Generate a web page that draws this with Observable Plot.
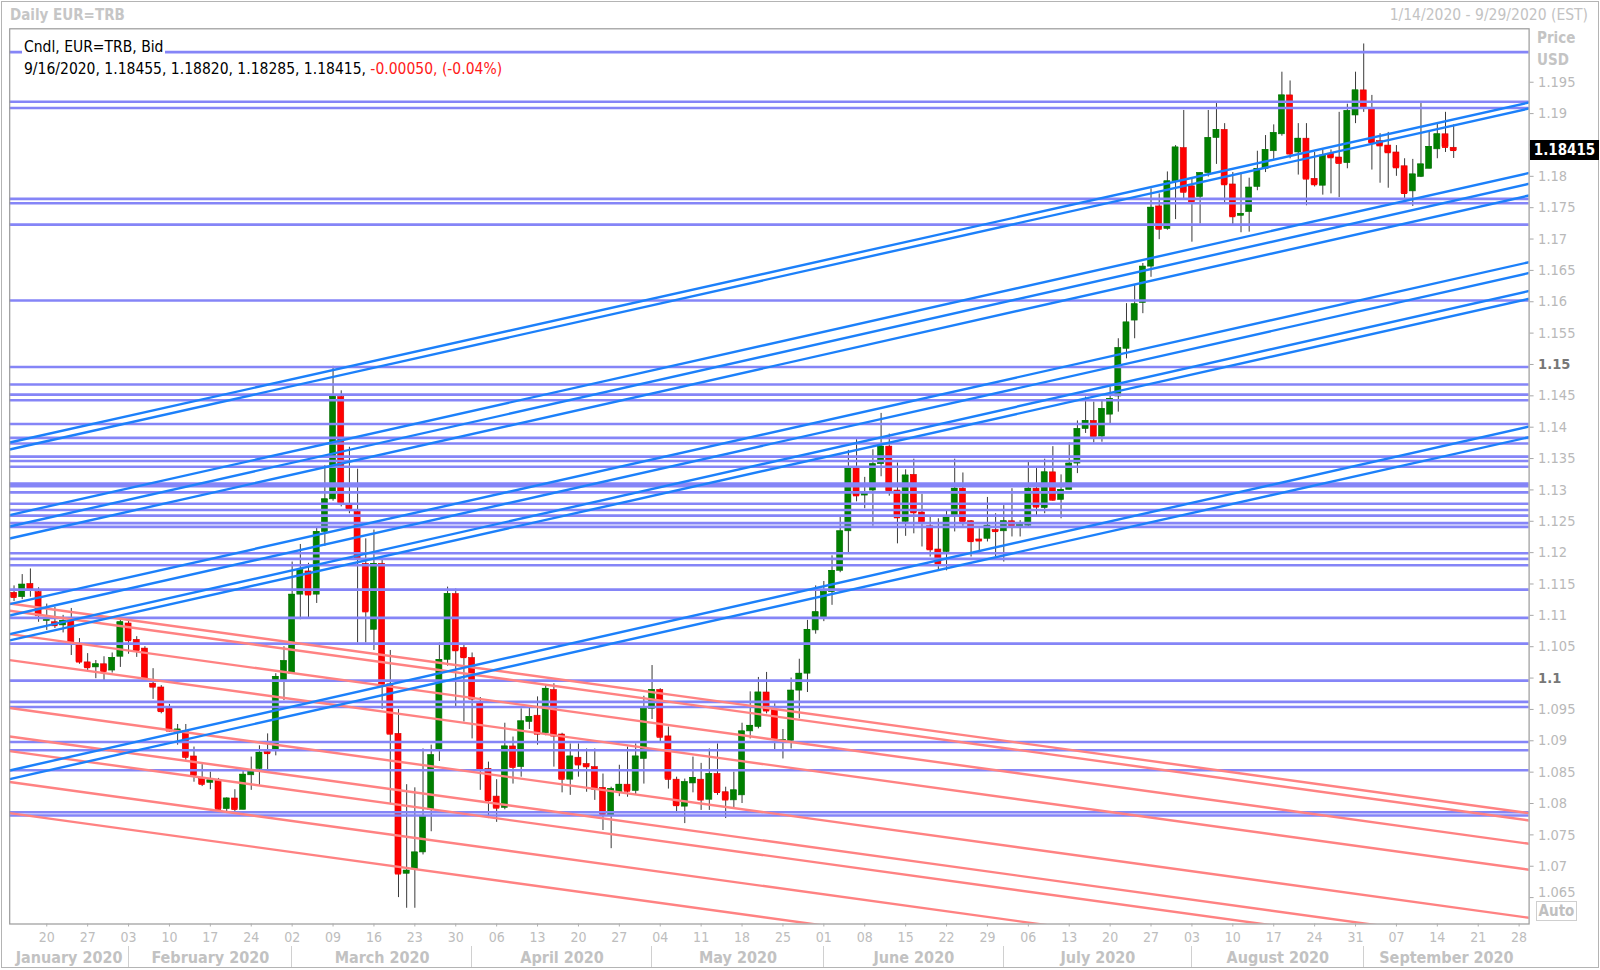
<!DOCTYPE html>
<html><head><meta charset="utf-8">
<script src="https://cdn.jsdelivr.net/npm/d3@7"></script>
<script src="https://cdn.jsdelivr.net/npm/@observablehq/plot@0.6"></script>
<style>
html,body{margin:0;padding:0;background:#fff;}
#wrap{position:relative;width:1600px;height:970px;overflow:hidden;font-family:"DejaVu Sans Condensed","DejaVu Sans",sans-serif;font-stretch:condensed;}
#wrap svg{position:absolute;left:0;top:0;}
.ov{position:absolute;white-space:nowrap;line-height:1;}
</style></head><body><div id="wrap"></div>
<script>
// ---------- data ----------
const dates = ["2020-01-14","2020-01-15","2020-01-16","2020-01-17",
"2020-01-20","2020-01-21","2020-01-22","2020-01-23","2020-01-24",
"2020-01-27","2020-01-28","2020-01-29","2020-01-30","2020-01-31",
"2020-02-03","2020-02-04","2020-02-05","2020-02-06","2020-02-07",
"2020-02-10","2020-02-11","2020-02-12","2020-02-13","2020-02-14",
"2020-02-17","2020-02-18","2020-02-19","2020-02-20","2020-02-21",
"2020-02-24","2020-02-25","2020-02-26","2020-02-27","2020-02-28",
"2020-03-02","2020-03-03","2020-03-04","2020-03-05","2020-03-06",
"2020-03-09","2020-03-10","2020-03-11","2020-03-12","2020-03-13",
"2020-03-16","2020-03-17","2020-03-18","2020-03-19","2020-03-20",
"2020-03-23","2020-03-24","2020-03-25","2020-03-26","2020-03-27",
"2020-03-30","2020-03-31","2020-04-01","2020-04-02","2020-04-03",
"2020-04-06","2020-04-07","2020-04-08","2020-04-09","2020-04-10",
"2020-04-13","2020-04-14","2020-04-15","2020-04-16","2020-04-17",
"2020-04-20","2020-04-21","2020-04-22","2020-04-23","2020-04-24",
"2020-04-27","2020-04-28","2020-04-29","2020-04-30","2020-05-01",
"2020-05-04","2020-05-05","2020-05-06","2020-05-07","2020-05-08",
"2020-05-11","2020-05-12","2020-05-13","2020-05-14","2020-05-15",
"2020-05-18","2020-05-19","2020-05-20","2020-05-21","2020-05-22",
"2020-05-25","2020-05-26","2020-05-27","2020-05-28","2020-05-29",
"2020-06-01","2020-06-02","2020-06-03","2020-06-04","2020-06-05",
"2020-06-08","2020-06-09","2020-06-10","2020-06-11","2020-06-12",
"2020-06-15","2020-06-16","2020-06-17","2020-06-18","2020-06-19",
"2020-06-22","2020-06-23","2020-06-24","2020-06-25","2020-06-26",
"2020-06-29","2020-06-30","2020-07-01","2020-07-02","2020-07-03",
"2020-07-06","2020-07-07","2020-07-08","2020-07-09","2020-07-10",
"2020-07-13","2020-07-14","2020-07-15","2020-07-16","2020-07-17",
"2020-07-20","2020-07-21","2020-07-22","2020-07-23","2020-07-24",
"2020-07-27","2020-07-28","2020-07-29","2020-07-30","2020-07-31",
"2020-08-03","2020-08-04","2020-08-05","2020-08-06","2020-08-07",
"2020-08-10","2020-08-11","2020-08-12","2020-08-13","2020-08-14",
"2020-08-17","2020-08-18","2020-08-19","2020-08-20","2020-08-21",
"2020-08-24","2020-08-25","2020-08-26","2020-08-27","2020-08-28",
"2020-08-31","2020-09-01","2020-09-02","2020-09-03","2020-09-04",
"2020-09-07","2020-09-08","2020-09-09","2020-09-10","2020-09-11",
"2020-09-14","2020-09-15","2020-09-16"];

const opens = [1.1136,1.1129,1.1150,1.1137,
1.1091,1.1089,1.1084,1.1092,1.1052,
1.1025,1.1017,1.1022,1.1012,1.1034,
1.1087,1.1061,1.1047,1.0991,1.0985,
1.0951,1.0914,1.0915,1.0875,1.0839,
1.0833,1.0837,1.0791,1.0808,1.0790,
1.0845,1.0855,1.0882,1.0884,1.0996,
1.1007,1.1133,1.1170,1.1133,1.1233,
1.1285,1.1448,1.1275,1.1265,1.1182,
1.1077,1.1182,1.0990,1.0911,1.0688,
1.0695,1.0722,1.0790,1.0884,1.1029,
1.1134,1.1048,1.1032,1.0959,1.0855,
1.0811,1.0793,1.0891,1.0858,1.0930,
1.0940,1.0912,1.0981,1.0910,1.0838,
1.0873,1.0863,1.0858,1.0825,1.0781,
1.0818,1.0830,1.0820,1.0871,1.0951,
1.0981,1.0907,1.0838,1.0795,1.0832,
1.0838,1.0806,1.0847,1.0818,1.0805,
1.0813,1.0915,1.0922,1.0977,1.0949,
1.0897,1.0900,1.0980,1.1007,1.1076,
1.1096,1.1137,1.1171,1.1234,1.1334,
1.1291,1.1299,1.1341,1.1369,1.1299,
1.1249,1.1324,1.1264,1.1242,1.1205,
1.1201,1.1257,1.1302,1.1250,1.1221,
1.1222,1.1236,1.1234,1.1250,1.1242,
1.1243,1.1302,1.1271,1.1328,1.1284,
1.1300,1.1342,1.1397,1.1410,1.1385,
1.1420,1.1449,1.1525,1.1570,1.1598,
1.1656,1.1752,1.1716,1.1792,1.1845,
1.1784,1.1767,1.1805,1.1861,1.1874,
1.1787,1.1737,1.1743,1.1783,1.1812,
1.1840,1.1867,1.1929,1.1838,1.1860,
1.1796,1.1785,1.1836,1.1830,1.1821,
1.1897,1.1937,1.1908,1.1856,1.1849,
1.1838,1.1816,1.1776,1.1799,1.1812,
1.1843,1.1867,1.18455];

const highs = [1.1147,1.1165,1.1174,1.1144,
1.1118,1.1113,1.1100,1.1111,1.1063,
1.1039,1.1028,1.1034,1.1040,1.1094,
1.1092,1.1066,1.1050,1.1015,1.0988,
1.0958,1.0926,1.0926,1.0890,1.0862,
1.0850,1.0840,1.0809,1.0822,1.0854,
1.0874,1.0892,1.0911,1.1007,1.1050,
1.1185,1.1213,1.1183,1.1239,1.1339,
1.1497,1.1458,1.1368,1.1333,1.1222,
1.1236,1.1190,1.1044,1.0950,1.0830,
1.0825,1.0887,1.0893,1.1056,1.1145,
1.1142,1.1052,1.1040,1.0969,1.0866,
1.0838,1.0928,1.0906,1.0951,1.0954,
1.0970,1.0988,1.0991,1.0912,1.0895,
1.0895,1.0887,1.0887,1.0847,1.0826,
1.0861,1.0890,1.0895,1.0971,1.1020,
1.0983,1.0922,1.0842,1.0839,1.0874,
1.0864,1.0887,1.0895,1.0826,1.0850,
1.0928,1.0978,1.1001,1.1009,1.0959,
1.0918,1.1000,1.1030,1.1092,1.1147,
1.1154,1.1195,1.1257,1.1363,1.1380,
1.1320,1.1364,1.1422,1.1389,1.1343,
1.1332,1.1349,1.1293,1.1257,1.1254,
1.1268,1.1349,1.1327,1.1251,1.1238,
1.1288,1.1262,1.1275,1.1302,1.1251,
1.1344,1.1334,1.1349,1.1369,1.1324,
1.1375,1.1410,1.1448,1.1440,1.1443,
1.1464,1.1541,1.1597,1.1626,1.1661,
1.1780,1.1772,1.1807,1.1849,1.1905,
1.1796,1.1806,1.1905,1.1916,1.1884,
1.1806,1.1806,1.1797,1.1840,1.1865,
1.1882,1.1966,1.1952,1.1884,1.1884,
1.1838,1.1842,1.1842,1.1902,1.1915,
1.1966,1.2011,1.1929,1.1868,1.1870,
1.1849,1.1828,1.1827,1.1916,1.1871,
1.1884,1.1902,1.18820];

const lows = [1.1122,1.1125,1.1129,1.1089,
1.1076,1.1079,1.1072,1.1036,1.1022,
1.1011,1.0999,1.0994,1.1008,1.1017,
1.1038,1.1033,1.0999,1.0966,1.0943,
1.0914,1.0893,1.0869,1.0834,1.0827,
1.0822,1.0790,1.0784,1.0783,1.0790,
1.0821,1.0829,1.0853,1.0876,1.0964,
1.1007,1.1093,1.1094,1.1119,1.1210,
1.1282,1.1273,1.1262,1.1056,1.1056,
1.1044,1.0950,1.0798,1.0650,1.0633,
1.0633,1.0718,1.0755,1.0867,1.1019,
1.0953,1.0930,1.0903,1.0821,1.0776,
1.0770,1.0790,1.0831,1.0842,1.0918,
1.0893,1.0908,1.0858,1.0817,1.0813,
1.0842,1.0818,1.0805,1.0757,1.0728,
1.0811,1.0810,1.0813,1.0831,1.0934,
1.0898,1.0823,1.0784,1.0768,1.0817,
1.0789,1.0789,1.0813,1.0776,1.0793,
1.0800,1.0903,1.0919,1.0943,1.0885,
1.0871,1.0887,1.0935,1.0977,1.1070,
1.1090,1.1116,1.1168,1.1199,1.1281,
1.1270,1.1242,1.1321,1.1290,1.1214,
1.1226,1.1230,1.1209,1.1193,1.1171,
1.1171,1.1233,1.1242,1.1193,1.1201,
1.1217,1.1193,1.1185,1.1225,1.1225,
1.1241,1.1259,1.1262,1.1282,1.1254,
1.1300,1.1326,1.1390,1.1375,1.1376,
1.1403,1.1424,1.1509,1.1541,1.1581,
1.1639,1.1699,1.1714,1.1731,1.1762,
1.1695,1.1724,1.1799,1.1819,1.1757,
1.1722,1.1710,1.1711,1.1777,1.1806,
1.1827,1.1864,1.1828,1.1802,1.1753,
1.1783,1.1770,1.1772,1.1766,1.1812,
1.1884,1.1902,1.1810,1.1789,1.1781,
1.1800,1.1764,1.1752,1.1798,1.1812,
1.1828,1.1838,1.18285];

const closes = [1.1129,1.1149,1.1141,1.1100,
1.1095,1.1084,1.1091,1.1057,1.1026,
1.1017,1.1022,1.1011,1.1032,1.1089,
1.1060,1.1044,1.0999,1.0986,1.0947,
1.0916,1.0918,1.0874,1.0845,1.0831,
1.0837,1.0791,1.0808,1.0791,1.0846,
1.0853,1.0881,1.0880,1.1002,1.1027,
1.1133,1.1172,1.1133,1.1233,1.1285,
1.1448,1.1279,1.1270,1.1190,1.1106,
1.1182,1.0990,1.0911,1.0688,1.0693,
1.0722,1.0779,1.0877,1.1029,1.1134,
1.1044,1.1033,1.0967,1.0854,1.0805,
1.0793,1.0891,1.0858,1.0931,1.0938,
1.0911,1.0983,1.0908,1.0839,1.0875,
1.0862,1.0859,1.0823,1.0783,1.0823,
1.0830,1.0820,1.0875,1.0951,1.0981,
1.0906,1.0839,1.0797,1.0834,1.0841,
1.0806,1.0847,1.0818,1.0806,1.0821,
1.0915,1.0924,1.0977,1.0948,1.0903,
1.0901,1.0980,1.1007,1.1077,1.1105,
1.1137,1.1171,1.1234,1.1334,1.1291,
1.1294,1.1341,1.1369,1.1298,1.1256,
1.1323,1.1264,1.1249,1.1205,1.1182,
1.1257,1.1302,1.1250,1.1218,1.1219,
1.1243,1.1234,1.1250,1.1243,1.1244,
1.1302,1.1273,1.1328,1.1284,1.1300,
1.1342,1.1397,1.1410,1.1385,1.1429,
1.1445,1.1526,1.1567,1.1596,1.1656,
1.1750,1.1716,1.1792,1.1846,1.1775,
1.1759,1.1805,1.1861,1.1874,1.1787,
1.1736,1.1740,1.1782,1.1812,1.1842,
1.1869,1.1929,1.1836,1.1860,1.1796,
1.1787,1.1833,1.1830,1.1821,1.1904,
1.1937,1.1910,1.1854,1.1849,1.1838,
1.1814,1.1773,1.1803,1.1819,1.1847,
1.1867,1.18465,1.18415];

// horizontal support / resistance levels
const hLevels = [1.1998,1.1919,1.1909,1.1764,1.1757,1.1723,1.1602,1.1496,1.1468,1.1452,1.1443,
1.1405,1.1383,1.1374,1.1353,1.1346,1.1337,1.1310,1.1306,1.1296,1.1278,1.1268,1.1259,1.1247,1.1241,
1.1199,1.1190,1.1180,1.1141,1.1096,1.1055,1.0996,1.0962,1.0954,1.0898,1.0885,1.0853,1.0786,1.0781];

// trend lines: price at chart start (lineStart) and at chart end (lineEnd)
const lineStart = -0.53, lineEnd = 185.22;
const blueStart = [1.13756,1.13645,1.12599,1.12417,1.12226,1.11180,1.10998,1.10701,1.10600,1.08527,1.08390];
const blueEnd   = [1.19177,1.19082,1.18053,1.17881,1.17695,1.16631,1.16459,1.16172,1.16048,1.14011,1.13841];
const redStart  = [1.11189,1.11073,1.10701,1.10287,1.09522,1.09069,1.08836,1.08343,1.07846];
const redEnd    = [1.07846,1.07730,1.07358,1.06944,1.06178,1.05725,1.05493,1.05000,1.04503];

// axes
const priceTicks = [1.065,1.07,1.075,1.08,1.085,1.09,1.095,1.105,1.11,1.115,1.12,1.125,1.13,1.135,1.14,1.145,1.155,1.16,1.165,1.17,1.175,1.18,1.19,1.195];
const priceTicksBold = [1.1,1.15];
const hiddenTicks = [1.185]; // covered by the last-price box
const weekIdx = [4,9,14,19,24,29,34,39,44,49,54,59,64,69,74,79,84,89,94,99,104,109,114,119,124,129,134,139,144,149,154,159,164,169,174,179,184];
const weekLabels = ["20","27","03","10","17","24","02","09","16","23","30","06","13","20","27","04","11","18","25","01","08","15","22","29","06","13","20","27","03","10","17","24","31","07","14","21","28"];
const monthStarts = [14,34,56,78,99,121,144,165];
const monthNames = ["January 2020","February 2020","March 2020","April 2020","May 2020","June 2020","July 2020","August 2020","September 2020"];

// ---------- build ----------
const xDomain = [lineStart, lineEnd];
const yDomain = [1.06079, 1.20352];
const FONT = '"DejaVu Sans Condensed","DejaVu Sans",sans-serif';

const candles = dates.map((d, i) => ({i, date: d, o: opens[i], h: highs[i], l: lows[i], c: closes[i]}));
const up = candles.filter(d => d.c >= d.o);
const down = candles.filter(d => d.c < d.o);
const half = 0.37;

const bounds = [lineStart, ...monthStarts, lineEnd];
const months = monthNames.map((name, k) => ({name, x: (bounds[k] + bounds[k + 1]) / 2}));
const weeks = weekIdx.map((x, k) => ({x, label: weekLabels[k]}));
const labelMap = new Map(weeks.map(w => [w.x, w.label]));

const blueLines = blueStart.map((p, k) => ({x1: lineStart, y1: p, x2: lineEnd, y2: blueEnd[k]}));
const redLines = redStart.map((p, k) => ({x1: lineStart, y1: p, x2: lineEnd, y2: redEnd[k]}));

const fmt = v => String(+v.toFixed(3));
const allTicks = [...priceTicks, ...priceTicksBold, ...hiddenTicks].sort((a, b) => a - b);

const chart = Plot.plot({
  width: 1600, height: 970,
  marginLeft: 9.2, marginRight: 71.4, marginTop: 28.3, marginBottom: 46.5,
  style: {fontFamily: FONT, fontStretch: "condensed", background: "white", overflow: "visible"},
  x: {type: "linear", domain: xDomain, axis: null, label: null},
  y: {type: "linear", domain: yDomain, axis: null, label: null},
  marks: [
    // wicks
    Plot.ruleX(candles, {x: "i", y1: "l", y2: "h", stroke: "#3a3a3a", strokeWidth: 1}),
    // bodies
    Plot.rect(up, {x1: d => d.i - half, x2: d => d.i + half, y1: "o", y2: "c", fill: "#008000", stroke: "#0a6e0a", strokeWidth: 0.6}),
    Plot.rect(down, {x1: d => d.i - half, x2: d => d.i + half, y1: "c", y2: "o", fill: "#ff0000", stroke: "#d40000", strokeWidth: 0.6}),
    Plot.ruleY(up, {x1: d => d.i - half, x2: d => d.i + half, y: "c", stroke: "#008000", strokeWidth: 1.5}),
    Plot.ruleY(down, {x1: d => d.i - half, x2: d => d.i + half, y: "c", stroke: "#ff0000", strokeWidth: 1.5}),
    // horizontal levels
    Plot.ruleY(hLevels, {stroke: "#8585f7", strokeWidth: 2.6}),
    // trend lines
    Plot.link(redLines, {x1: "x1", y1: "y1", x2: "x2", y2: "y2", stroke: "#ff8282", strokeWidth: 2.4, clip: true}),
    Plot.link(blueLines, {x1: "x1", y1: "y1", x2: "x2", y2: "y2", stroke: "#1c80fa", strokeWidth: 2.4, clip: true}),
    Plot.frame({stroke: "#9a9a9a", strokeWidth: 1.2}),
    // right axis
    Plot.axisY(allTicks, {anchor: "right", tickSize: 4, tickFormat: () => "", stroke: "#a8a8a8", label: null}),
    Plot.text(priceTicks.filter(v => v !== 1.065), {y: d => d, text: fmt, frameAnchor: "right", textAnchor: "start", dx: 9, fill: "#b9b9b9", fontSize: 14.5}),
    Plot.text(priceTicks.filter(v => v === 1.065), {y: d => d, text: fmt, frameAnchor: "right", textAnchor: "start", dx: 9, dy: -5, fill: "#b9b9b9", fontSize: 14.5}),
    Plot.text(priceTicksBold, {y: d => d, text: fmt, frameAnchor: "right", textAnchor: "start", dx: 9, fill: "#777", fontWeight: "bold", fontSize: 14.5}),
    // bottom axis
    Plot.axisX(weekIdx, {anchor: "bottom", tickSize: 3, tickPadding: 5, tickFormat: v => labelMap.get(v), stroke: "#b0b0b0", fill: "#bdbdbd", fontSize: 14, label: null}),
    Plot.text(months, {x: "x", text: "name", frameAnchor: "bottom", dy: 38.5, fill: "#c2c2c2", fontWeight: "bold", fontSize: 16})
  ]
});

const wrap = document.getElementById("wrap");
wrap.appendChild(chart);

function ov(html, css) {
  const d = document.createElement("div");
  d.className = "ov";
  d.innerHTML = html;
  Object.assign(d.style, css);
  wrap.appendChild(d);
  return d;
}
const xs = chart.scale("x"), ys = chart.scale("y");

// outer border
ov("", {left: "1px", top: "1px", width: "1596px", height: "965px", border: "1px solid #b4b4b4"});
// title + date range
ov("Daily EUR=TRB", {left: "10px", top: "7.5px", fontSize: "15px", fontWeight: "bold", color: "#c6c6c6"});
const fmtDate = s => { const [y, m, d] = s.split("-").map(Number); return `${m}/${d}/${y}`; };
ov(`${fmtDate("2020-01-14")} - ${fmtDate("2020-09-29")} (EST)`, {right: "12px", top: "7.5px", fontSize: "15.5px", color: "#c3c3c3"});

// legend
const last = candles[candles.length - 1], prev = candles[candles.length - 2];
const chg = last.c - prev.c, pct = chg / prev.c * 100;
ov("Cndl, EUR=TRB, Bid", {left: "22px", top: "40px", fontSize: "15.5px", color: "#000", background: "#fff", padding: "0 2px"});
ov(`${fmtDate(last.date)}, ${last.o.toFixed(5)}, ${last.h.toFixed(5)}, ${last.l.toFixed(5)}, ${last.c.toFixed(5)}, <span style="color:#ff1a1a">${chg.toFixed(5)}, (${pct.toFixed(2)}%)</span>`,
  {left: "24px", top: "61.5px", fontSize: "15.5px", color: "#000"});

// Price / USD
ov("Price", {left: "1537px", top: "31px", fontSize: "15px", fontWeight: "bold", color: "#c4c4c4"});
ov("USD", {left: "1537px", top: "52.8px", fontSize: "15px", fontWeight: "bold", color: "#c4c4c4"});

// last price box
const py = ys.apply(last.c);
ov(last.c.toFixed(5), {left: "1530px", top: (py - 10) + "px", width: "69px", height: "20px", lineHeight: "20px", background: "#000", color: "#fff", fontWeight: "bold", fontSize: "15px", textAlign: "center"});

// Auto box
ov("Auto", {left: "1536px", top: "901px", width: "39px", height: "18px", lineHeight: "18px", border: "1px solid #cfcfcf", color: "#c0c0c0", fontWeight: "bold", fontSize: "15px", textAlign: "center"});

// month separators
monthStarts.forEach(i => {
  ov("", {left: (xs.apply(i) - 0.5) + "px", top: "946px", width: "1px", height: "21px", background: "#d0d0d0"});
});
</script></body></html>
